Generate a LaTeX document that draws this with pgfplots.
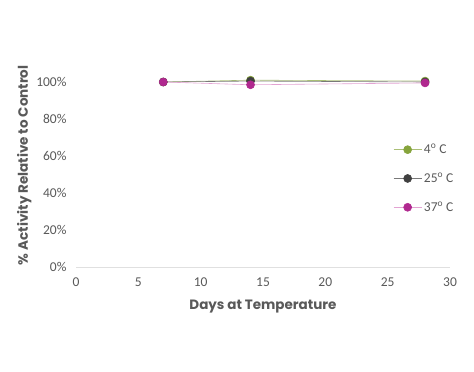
\documentclass[border=0pt]{standalone}
\usepackage{fontspec}
\setmainfont{Carlito}
\newfontfamily\titlefont{Poppins}
\usepackage{pgfplots}
\pgfplotsset{compat=1.18}
\definecolor{cgreen}{HTML}{86A43C}
\definecolor{cgray}{HTML}{404040}
\definecolor{cmag}{HTML}{B0288F}
\definecolor{cpink}{HTML}{E3A3D3}
\definecolor{tickc}{HTML}{595959}
\definecolor{axc}{HTML}{E0E0E0}
\begin{document}
\begin{tikzpicture}
\useasboundingbox (-76pt,-105pt) rectangle (398pt,267pt);
\begin{axis}[
  at={(0,0)}, anchor=origin,
  scale only axis, width=374pt, height=203.5pt,
  xmin=0, xmax=30, ymin=0, ymax=110,
  xtick={0,5,...,30}, ytick={0,20,...,100},
  yticklabel={\pgfmathprintnumber{\tick}\%},
  axis line style={draw=none},
  axis x line*=bottom, axis y line*=left,
  x axis line style={draw=axc, line width=0.8pt},
  major tick length=0pt,
  tick style={draw=none},
  ticklabel style={font=\fontsize{13.5}{15}\selectfont, text=tickc},
  /pgf/number format/assume math mode=true,
  xticklabel style={yshift=-7pt},
  yticklabel style={xshift=-6pt},
  xlabel={\titlefont\bfseries Days at Temperature},
  ylabel={\titlefont\bfseries \% Activity Relative to Control},
  label style={font=\fontsize{13.5}{15}\selectfont, text=tickc},
  xlabel style={yshift=-7pt},
  ylabel style={yshift=-2pt},
  legend style={at={(0.84,0.625)}, anchor=north west, draw=none, fill=none,
    font=\fontsize{13.5}{15}\selectfont, text=tickc, row sep=13.5pt,
    /tikz/every even column/.append style={column sep=0pt}},
  legend cell align=left,
  legend image code/.code={\draw[#1] (0pt,0pt) -- (28pt,0pt); \draw[#1, mark repeat=1] plot coordinates {(14pt,0pt)};},
]
\addplot[color=cgreen!70!white, line width=0.6pt, mark=*, mark size=4pt, mark options={draw=cgreen, fill=cgreen}] coordinates {(7,100) (14,101) (28,100.5)};
\addlegendentry{4\textsuperscript{o} C}
\addplot[color=cgray!70!white, line width=0.6pt, mark=*, mark size=4pt, mark options={draw=cgray, fill=cgray}] coordinates {(7,100) (14,100.5) (28,100)};
\addlegendentry{25\textsuperscript{o} C}
\addplot[color=cpink, line width=0.6pt, mark=*, mark size=4pt, mark options={draw=cmag, fill=cmag}] coordinates {(7,100) (14,98.5) (28,99.5)};
\addlegendentry{37\textsuperscript{o} C}
\end{axis}
\end{tikzpicture}
\end{document}
